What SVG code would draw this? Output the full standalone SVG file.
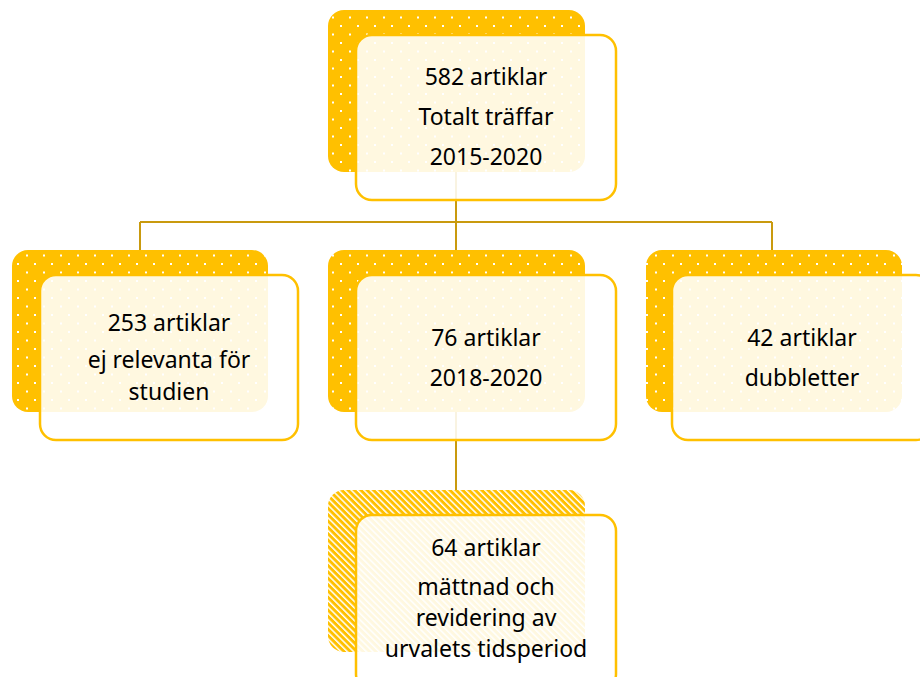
<svg xmlns="http://www.w3.org/2000/svg" width="920" height="677" viewBox="0 0 920 677">
<defs>
<pattern id="dots" width="17" height="17" patternUnits="userSpaceOnUse" x="332" y="8">
<rect width="17" height="17" fill="#FFC000"/>
<rect x="8" y="0" width="2" height="2" fill="#FFFFFF"/>
<rect x="0" y="8.5" width="2" height="2" fill="#FFFFFF"/>
</pattern>
<pattern id="hatch" width="4.5" height="4.5" patternUnits="userSpaceOnUse" patternTransform="rotate(-45)">
<rect width="4.5" height="4.5" fill="#FFC000"/>
<rect x="0" y="0" width="1.5" height="4.5" fill="#FFFFFF"/>
</pattern>
<style>
.back{fill:url(#dots);}
.backh{fill:url(#hatch);}
.front{fill:#FFFFFF;fill-opacity:0.88;stroke:#FFC000;stroke-width:2.5;}
.conn{stroke:#C99A0E;stroke-width:2;fill:none;}
text{font-family:"Noto Sans","Open Sans",sans-serif;font-size:23px;fill:#000000;text-anchor:middle;}
</style>
</defs>
<g id="connectors">
<path class="conn" d="M456 172 V222 M140 222 H772 M140 222 V250 M456 222 V250 M772 222 V250 M456 412 V490"/>
</g>
<g id="node-top">
<rect class="back" x="328" y="10" width="257" height="162" rx="16"/>
<rect class="front" x="356" y="35" width="260" height="165" rx="16"/>
<text x="486" y="85">582 artiklar</text>
<text x="486" y="125">Totalt träffar</text>
<text x="486" y="165">2015-2020</text>
</g>
<g id="node-left">
<rect class="back" x="12" y="250" width="256" height="162" rx="16"/>
<rect class="front" x="40" y="275" width="258" height="165" rx="16"/>
<text x="169" y="331">253 artiklar</text>
<text x="169" y="368">ej relevanta för</text>
<text x="169" y="400">studien</text>
</g>
<g id="node-middle">
<rect class="back" x="328" y="250" width="257" height="162" rx="16"/>
<rect class="front" x="356" y="275" width="260" height="165" rx="16"/>
<text x="486" y="346">76 artiklar</text>
<text x="486" y="386">2018-2020</text>
</g>
<g id="node-right">
<rect class="back" x="646" y="250" width="256" height="162" rx="16"/>
<rect class="front" x="672" y="275" width="260" height="165" rx="16"/>
<text x="802" y="346">42 artiklar</text>
<text x="802" y="386">dubbletter</text>
</g>
<g id="node-bottom">
<rect class="backh" x="328" y="490" width="257" height="162" rx="16"/>
<rect class="front" x="356" y="515" width="260" height="175" rx="16"/>
<text x="486" y="556">64 artiklar</text>
<text x="486" y="595">mättnad och</text>
<text x="486" y="626">revidering av</text>
<text x="486" y="657">urvalets tidsperiod</text>
</g>
</svg>
